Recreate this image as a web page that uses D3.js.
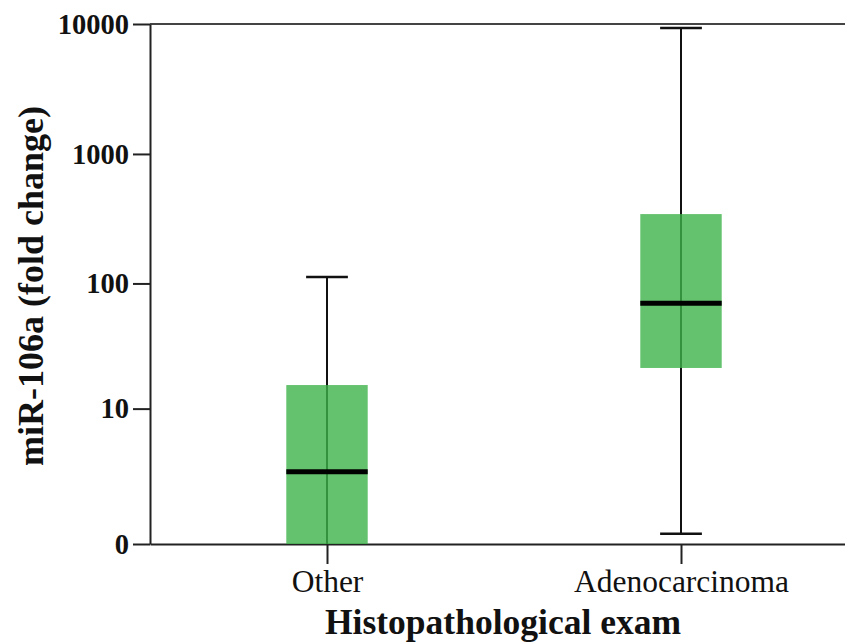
<!DOCTYPE html>
<html>
<head>
<meta charset="utf-8">
<script src="https://cdn.jsdelivr.net/npm/d3@7"></script>
<style>
    html, body { margin: 0; padding: 0; background: #fff; }
    svg { display: block; font-family: "Liberation Serif", "DejaVu Serif", serif; }
</style>
</head>
<body>
<svg id="chart" width="845" height="642"></svg>
<script>
// Box plot data
const categories = ["Other", "Adenocarcinoma"];
const whiskerLow = [0, 0.2];
const q1 = [0, 21.6];
const median = [2.6, 70];
const q3 = [15.7, 344];
const whiskerHigh = [112, 9300];
const yTicks = [0, 10, 100, 1000, 10000];

const svg = d3.select("#chart");
const plotLeft = 150, plotRight = 858, plotTop = 24, plotBottom = 544;

// y axis is log10(x + 1), so 0 can sit on the bottom
const y = d3.scaleSymlog().constant(1).domain([0, 10000]).range([plotBottom, plotTop]);
const x = d3.scalePoint().domain(categories).range([plotLeft, plotRight]).padding(0.5);

const boxW = x.step() * 0.23;
const capW = x.step() * 0.118;

const rows = categories.map((c, i) => ({
    cat: c, lo: whiskerLow[i], q1: q1[i], med: median[i], q3: q3[i], hi: whiskerHigh[i]
}));

// Top frame line
svg.append("line")
    .attr("x1", plotLeft).attr("x2", plotRight)
    .attr("y1", y(10000)).attr("y2", y(10000))
    .style("stroke", "#444").style("stroke-width", "2px");

// Axes
const yAxis = svg.append("g")
    .attr("transform", "translate(" + plotLeft + ",0)")
    .call(d3.axisLeft(y).tickValues(yTicks).tickFormat(d3.format("d")).tickSize(17).tickSizeOuter(0).tickPadding(4));
yAxis.selectAll("text")
    .style("font-size", "28.5px").style("font-weight", "bold").style("fill", "#111");
yAxis.attr("font-family", null);
yAxis.selectAll("line").style("stroke", "#222").style("stroke-width", "2px");
yAxis.select(".domain").style("stroke", "#222").style("stroke-width", "2px");

const xAxis = svg.append("g")
    .attr("transform", "translate(0," + plotBottom + ")")
    .call(d3.axisBottom(x).tickSize(20).tickSizeOuter(0).tickPadding(6));
xAxis.selectAll("text")
    .style("font-size", "31.5px").style("fill", "#111");
xAxis.attr("font-family", null);
xAxis.selectAll("line").style("stroke", "#222").style("stroke-width", "2px");
xAxis.select(".domain").style("stroke", "#222").style("stroke-width", "2px");

// Boxes
const g = svg.selectAll(".box").data(rows).enter().append("g").attr("class", "box");

g.append("line")
    .attr("x1", d => x(d.cat)).attr("x2", d => x(d.cat))
    .attr("y1", d => y(d.lo)).attr("y2", d => y(d.hi))
    .style("stroke", "#111").style("stroke-width", "2px");

g.append("rect")
    .attr("x", d => x(d.cat) - boxW / 2)
    .attr("width", boxW)
    .attr("y", d => y(d.q3))
    .attr("height", d => y(d.q1) - y(d.q3))
    .style("fill", "rgb(61,179,74)")
    .style("fill-opacity", 0.8);

g.append("line")
    .attr("x1", d => x(d.cat) - boxW / 2).attr("x2", d => x(d.cat) + boxW / 2)
    .attr("y1", d => y(d.med)).attr("y2", d => y(d.med))
    .style("stroke", "#000").style("stroke-width", "5px");

// Whisker caps (a cap sitting on 0 is hidden by the axis)
["lo", "hi"].forEach(k => {
    g.filter(d => d[k] > 0).append("line")
        .attr("x1", d => x(d.cat) - capW / 2).attr("x2", d => x(d.cat) + capW / 2)
        .attr("y1", d => y(d[k])).attr("y2", d => y(d[k]))
        .style("stroke", "#111").style("stroke-width", "2.5px");
});

// Axis titles
svg.append("text")
    .attr("x", 503).attr("y", 634)
    .attr("text-anchor", "middle")
    .style("font-size", "35.5px").style("font-weight", "bold").style("fill", "#111")
    .text("Histopathological exam");

svg.append("text")
    .attr("transform", "translate(43,286) rotate(-90)")
    .attr("text-anchor", "middle")
    .style("font-size", "36px").style("font-weight", "bold").style("fill", "#111")
    .text("miR-106a (fold change)");
</script>
</body>
</html>
